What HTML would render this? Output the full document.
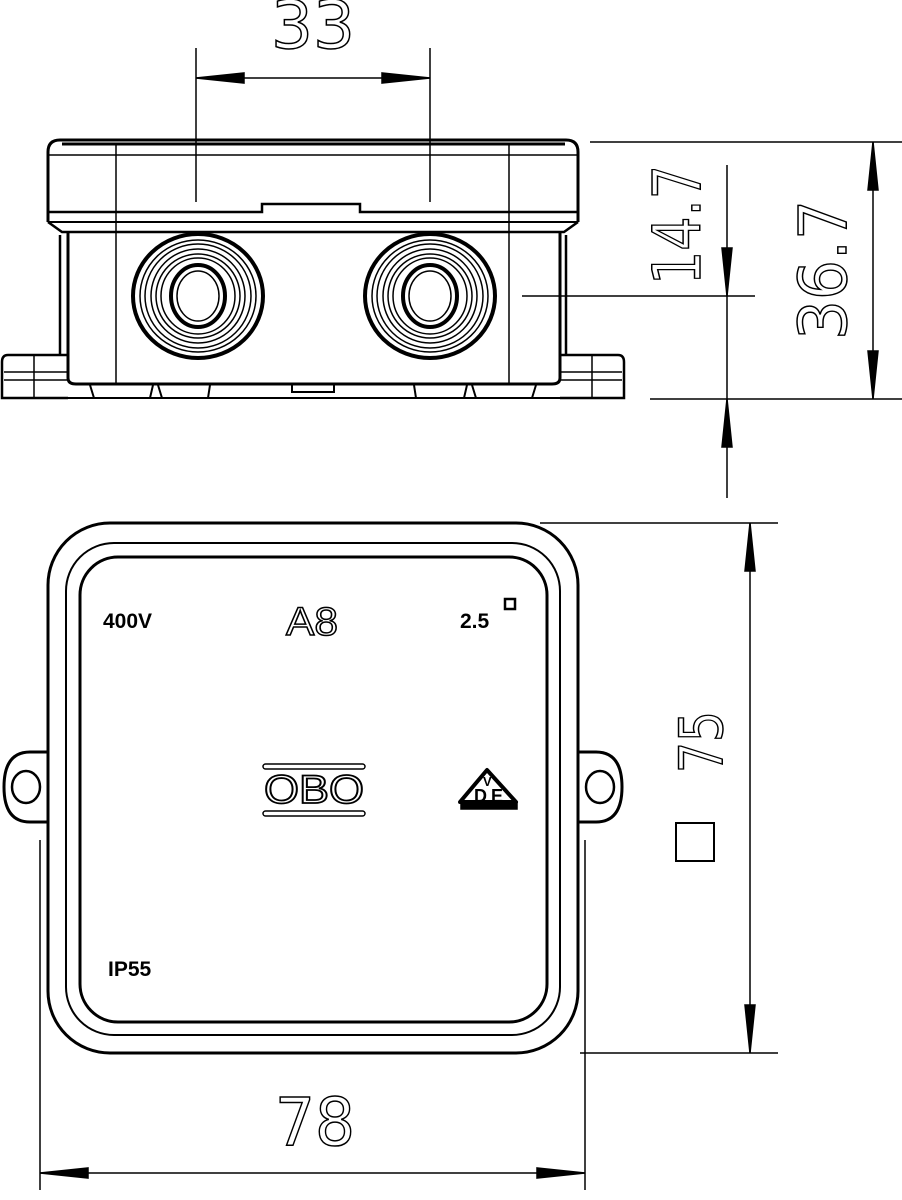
<!DOCTYPE html>
<html><head><meta charset="utf-8"><style>
html,body{margin:0;padding:0;background:#fff;}
svg{display:block;}
.t{font-family:"DejaVu Sans","Liberation Sans",sans-serif;}
</style></head><body>
<svg width="902" height="1200" viewBox="0 0 902 1200" xmlns="http://www.w3.org/2000/svg">
<g fill="none" stroke="#000" stroke-width="1.5">
<line x1="196" y1="48" x2="196" y2="202"/>
<line x1="430" y1="48" x2="430" y2="202"/>
<path d="M196,78 L430,78"/>
<path d="M196,78 l48,-5 v10z M430,78 l-48,-5 v10z" fill="#000"/>
<line x1="590" y1="142" x2="902" y2="142"/>
<line x1="522" y1="296" x2="755" y2="296"/>
<line x1="650" y1="399" x2="902" y2="399"/>
<line x1="873" y1="142" x2="873" y2="399"/>
<path d="M873,142 l-5,48 h10z M873,399 l-5,-48 h10z" fill="#000"/>
<line x1="727" y1="165" x2="727" y2="498"/>
<path d="M727,296 l-5,-48 h10z M727,399 l-5,48 h10z" fill="#000"/>
<path d="M48,222 V152 Q48,140 60,140 H566 Q578,140 578,152 V222" stroke-width="3"/>
<line x1="48" y1="155" x2="578" y2="155"/>
<line x1="62" y1="144" x2="565" y2="144" stroke-width="3"/>
<line x1="116" y1="144" x2="116" y2="385"/>
<line x1="509" y1="144" x2="509" y2="385"/>
<path d="M48,212 H262 V204 H360 V212 H578" stroke-width="2.5"/>
<path d="M48,222 H578" stroke-width="2"/>
<path d="M48,222 L62,232 H564 L578,222" stroke-width="2.5"/>
<path d="M68,232 V378 Q68,384 76,384 H552 Q560,384 560,378 V232" stroke-width="3"/>
<line x1="60" y1="235" x2="60" y2="355" stroke-width="2.5"/>
<line x1="566" y1="235" x2="566" y2="355" stroke-width="2.5"/>
<path d="M68,355 H8 Q2,355 2,362 V398 H68" stroke-width="2.5"/>
<path d="M560,355 H618 Q624,355 624,362 V398 H560" stroke-width="2.5"/>
<line x1="4" y1="372" x2="68" y2="372"/><line x1="4" y1="380" x2="68" y2="380"/>
<line x1="560" y1="372" x2="622" y2="372"/><line x1="560" y1="380" x2="622" y2="380"/>
<line x1="34" y1="355" x2="34" y2="398"/><line x1="592" y1="355" x2="592" y2="398"/>
<path d="M90,385 L94,398 H150 L153,385 M158,385 L162,398 H208 L210,385 M292,385 V392 H334 V385 M414,385 L416,398 H464 L467,385 M472,385 L476,398 H532 L536,385" stroke-width="2"/>
<line x1="2" y1="398" x2="624" y2="398" stroke-width="2"/>
<g transform="translate(198,296)">
<ellipse rx="65" ry="62" stroke-width="4"/><ellipse rx="58" ry="56"/><ellipse rx="53" ry="52"/><ellipse rx="47" ry="47"/><ellipse rx="42" ry="42"/><ellipse rx="37" ry="38"/><ellipse rx="27" ry="31" stroke-width="4"/><ellipse rx="21" ry="25"/>
</g>
<g transform="translate(430,296)">
<ellipse rx="65" ry="62" stroke-width="4"/><ellipse rx="58" ry="56"/><ellipse rx="53" ry="52"/><ellipse rx="47" ry="47"/><ellipse rx="42" ry="42"/><ellipse rx="37" ry="38"/><ellipse rx="27" ry="31" stroke-width="4"/><ellipse rx="21" ry="25"/>
</g>
<rect x="48" y="523" width="530" height="530" rx="62" stroke-width="3"/>
<rect x="66" y="543" width="494" height="492" rx="48" stroke-width="2"/>
<rect x="80" y="557" width="467" height="465" rx="38" stroke-width="3"/>
<path d="M48,752 H30 Q4,752 4,787 Q4,822 30,822 H48" stroke-width="3"/>
<ellipse cx="26" cy="787" rx="14" ry="16" stroke-width="2.5"/>
<path d="M578,752 H596 Q622,752 622,787 Q622,822 596,822 H578" stroke-width="3"/>
<ellipse cx="600" cy="787" rx="14" ry="16" stroke-width="2.5"/>
<line x1="540" y1="523" x2="778" y2="523"/>
<line x1="580" y1="1053" x2="778" y2="1053"/>
<line x1="750" y1="523" x2="750" y2="1053"/>
<path d="M750,523 l-5,48 h10z M750,1053 l-5,-48 h10z" fill="#000"/>
<rect x="676" y="823" width="38" height="38" stroke-width="2"/>
<line x1="40" y1="840" x2="40" y2="1190"/>
<line x1="585" y1="840" x2="585" y2="1190"/>
<line x1="40" y1="1173" x2="585" y2="1173"/>
<path d="M40,1173 l48,-5 v10z M585,1173 l-48,-5 v10z" fill="#000"/>
<rect x="263" y="764" width="102" height="5" rx="2.5" stroke-width="1.5"/>
<rect x="263" y="811" width="102" height="5" rx="2.5" stroke-width="1.5"/>
<path d="M460,802 L487,770 L516,802 Z" stroke-width="4" stroke-linejoin="round"/>
<rect x="461" y="803" width="56" height="6" fill="#000"/>
<rect x="505" y="599" width="10" height="10" stroke-width="2.5"/>
</g>
<g class="t" fill="#000">
<text x="313" y="48" font-size="66" text-anchor="middle" textLength="84" lengthAdjust="spacingAndGlyphs" fill="none" stroke="#000" stroke-width="1.5">33</text>
<text transform="translate(700,225) rotate(-90)" font-size="66" text-anchor="middle" textLength="120" lengthAdjust="spacingAndGlyphs" fill="none" stroke="#000" stroke-width="1.5">14.7</text>
<text transform="translate(846,270) rotate(-90)" font-size="66" text-anchor="middle" textLength="140" lengthAdjust="spacingAndGlyphs" fill="none" stroke="#000" stroke-width="1.5">36.7</text>
<text transform="translate(722,742) rotate(-90)" font-size="60" text-anchor="middle" textLength="62" lengthAdjust="spacingAndGlyphs" fill="none" stroke="#000" stroke-width="1.5">75</text>
<text x="315" y="1145" font-size="66" text-anchor="middle" textLength="80" lengthAdjust="spacingAndGlyphs" fill="none" stroke="#000" stroke-width="1.5">78</text>
<text x="103" y="628" font-size="21" font-weight="bold" font-family="Liberation Sans,sans-serif">400V</text>
<text x="312" y="635" font-size="40" text-anchor="middle" textLength="52" lengthAdjust="spacingAndGlyphs" fill="#fff" stroke="#000" stroke-width="1.5" font-family="Liberation Sans,sans-serif">A8</text>
<text x="460" y="628" font-size="21" font-weight="bold" font-family="Liberation Sans,sans-serif">2.5</text>
<text x="314" y="803" font-size="40" text-anchor="middle" textLength="100" lengthAdjust="spacingAndGlyphs" fill="#fff" stroke="#000" stroke-width="1.8" font-family="Liberation Sans,sans-serif">OBO</text>
<text x="474" y="802" font-size="18" font-weight="bold" font-family="Liberation Sans,sans-serif">D</text>
<text x="483" y="786" font-size="13" font-weight="bold" font-family="Liberation Sans,sans-serif">V</text>
<text x="491" y="802" font-size="18" font-weight="bold" font-family="Liberation Sans,sans-serif">E</text>
<text x="108" y="976" font-size="21" font-weight="bold" font-family="Liberation Sans,sans-serif">IP55</text>
</g>
</svg>
</body></html>
